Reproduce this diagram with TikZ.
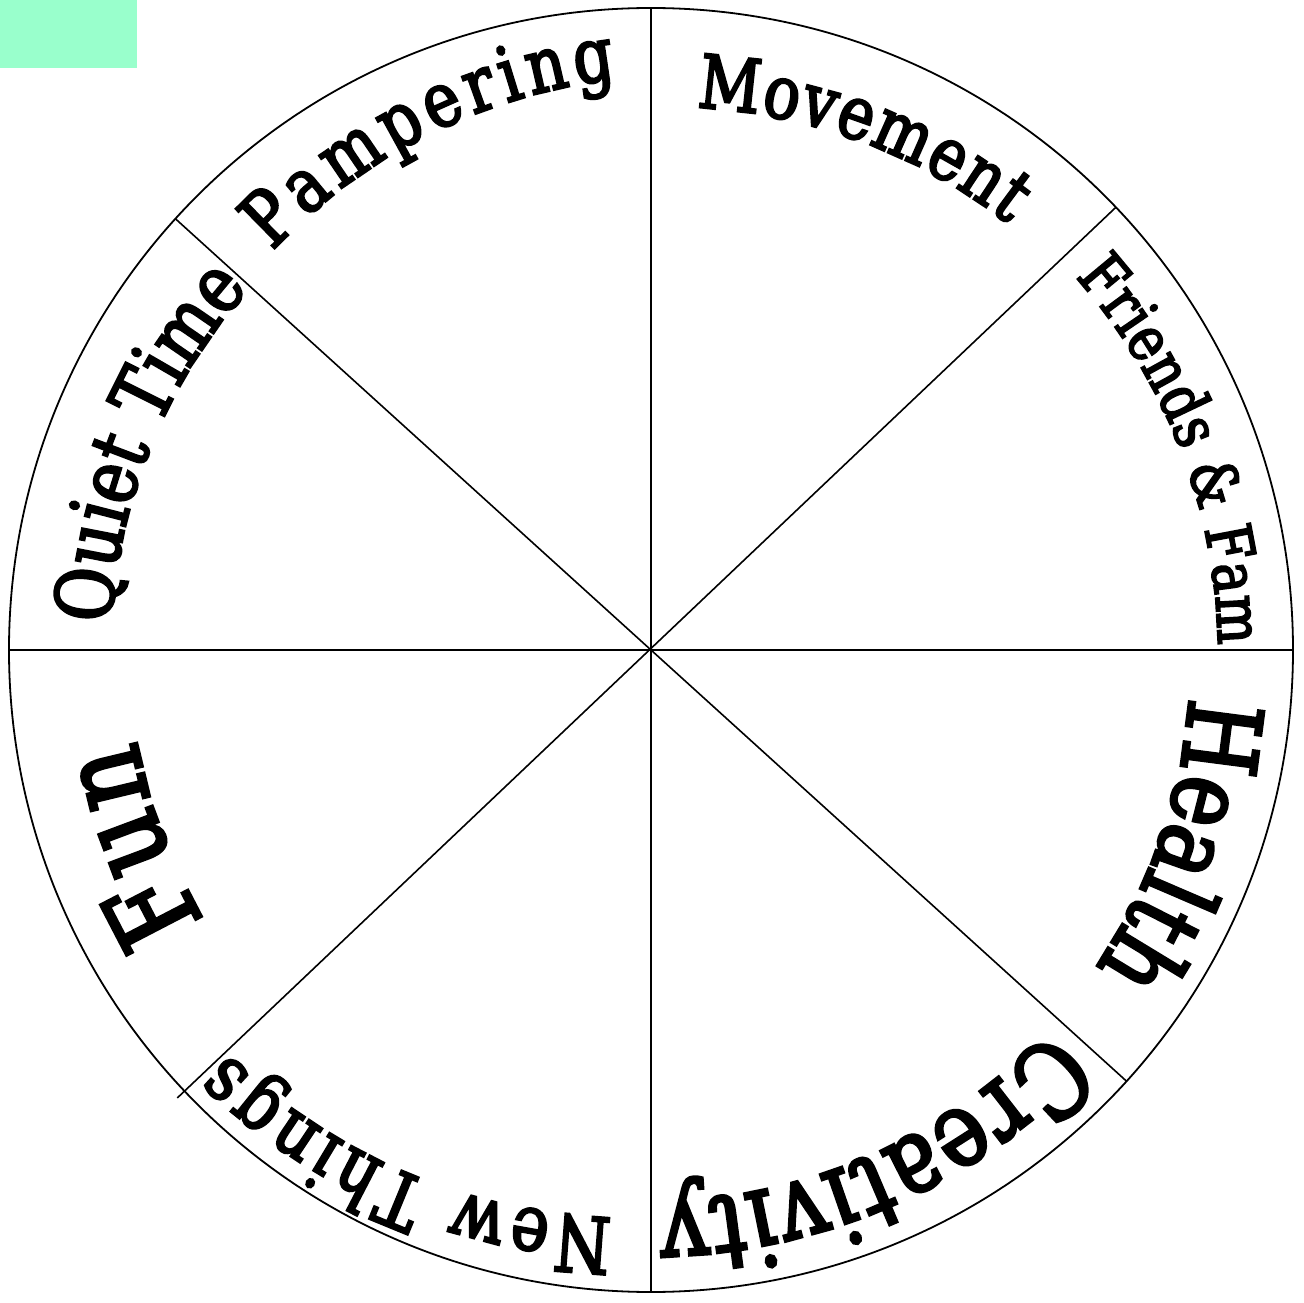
\documentclass[tikz,border=0pt]{standalone}
\usepackage{fontspec}
\usetikzlibrary{decorations.text}
\newfontfamily\wheelfont[FakeStretch=0.82,FakeBold=3]{DejaVu Serif}
\definecolor{tabgreen}{RGB}{153,255,204}
% #1 start angle, #2 start radius, #3 end angle, #4 end radius, #5 size, #6 text
\newcommand\arclabel[6]{%
  \path[decorate,decoration={text along path, text align=fit to path,
     text={|\wheelfont\fontsize{#5}{#5}\selectfont|#6}}]
     plot[domain=#1:#3, samples=60]
       ({\x}:{#2+(#4-#2)*(\x-(#1))/((#3)-(#1))});
}
\begin{document}
\begin{tikzpicture}[x=1pt,y=1pt,
  rim/.style={line width=1.8pt},
  spoke/.style={line width=1.6pt}]
\useasboundingbox (-651,-653) rectangle (652,650);
\fill[tabgreen] (-651,650) rectangle (-514,582);
\coordinate (O) at (0,0);
\draw[rim] (O) circle[radius=642];
\draw[spoke] (90:642) -- (270:642);
\draw[spoke] (180:642) -- (0:642);
\draw[spoke] (43.6:642) -- (223.4:652);
\draw[spoke] (137.8:642) -- (317.8:642);
\arclabel{133.5}{550}{93.5}{572}{76}{Pampering}
\arclabel{85.2}{544}{50}{556}{74}{Movement}
\arclabel{41.3}{565}{0.5}{567}{63}{Friends {\&} Fam}
\arclabel{-5}{540}{-35}{546}{103}{Health}
\arclabel{-43.5}{550}{-89.3}{552}{105}{Creativity}
\arclabel{-93.9}{569}{-136.4}{585}{78}{New Things}
\arclabel{-148.8}{522}{-170}{522}{115}{Fun}
\arclabel{177.2}{540}{138.5}{540}{80}{Quiet Time}
\end{tikzpicture}
\end{document}
